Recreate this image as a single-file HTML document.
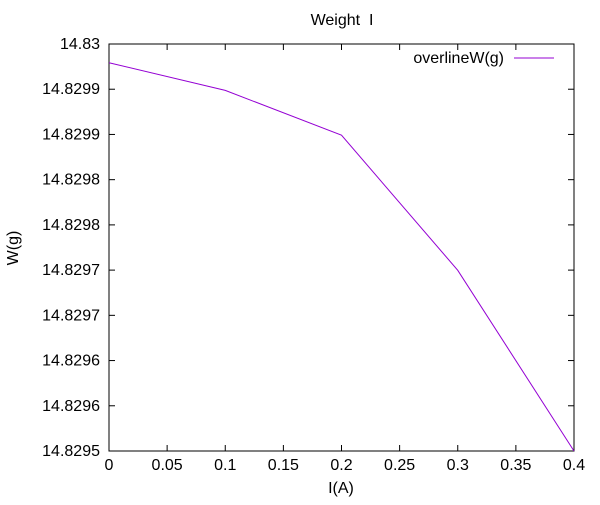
<!DOCTYPE html>
<html><head><meta charset="utf-8"><style>
body{margin:0;background:#fff;}
svg text{font-family:"Liberation Sans",sans-serif;font-size:16px;fill:#000;}
</style></head><body>
<svg id="chart" width="600" height="500">
<rect width="600" height="500" fill="#fff"/>
<text x="342" y="25" text-anchor="middle" style="white-space:pre">Weight  I</text>
<text x="341" y="493" text-anchor="middle">I(A)</text>
<text transform="translate(18,248) rotate(-90)" text-anchor="middle">W(g)</text>
<g id="axes"></g>
<g id="series"></g>
<g>
<text x="504" y="63" text-anchor="end">overlineW(g)</text>
<line x1="514" y1="58" x2="554" y2="58" stroke="#9400d3" stroke-width="1"/>
</g>
</svg>
<script>
const xValues=[0,0.1,0.2,0.3,0.4];
const yValues=[14.829977,14.829943,14.829888,14.829722,14.8295];
const xTicks=[0,0.05,0.1,0.15,0.2,0.25,0.3,0.35,0.4];
const xTickLabels=["0","0.05","0.1","0.15","0.2","0.25","0.3","0.35","0.4"];
const yTickLabels=["14.83","14.8299","14.8299","14.8298","14.8298","14.8297","14.8297","14.8296","14.8296","14.8295"];
const L=109,R=574,T=44,B=451,xMin=0,xMax=0.4,yMin=14.8295,yMax=14.83;
const sx=v=>L+(v-xMin)/(xMax-xMin)*(R-L);
const sy=v=>B-(v-yMin)/(yMax-yMin)*(B-T);
const NS="http://www.w3.org/2000/svg";
const axes=document.getElementById('axes');
function mk(tag,attrs,parent){const e=document.createElementNS(NS,tag);for(const k in attrs)e.setAttribute(k,attrs[k]);parent.appendChild(e);return e;}
const frame=mk('rect',{x:L,y:T,width:R-L,height:B-T,fill:'none',stroke:'#000','stroke-width':1},axes);


xTicks.forEach((v,i)=>{
  const x=sx(v);
  mk('line',{x1:x,y1:B,x2:x,y2:B-6,stroke:'#000'},axes);
  mk('line',{x1:x,y1:T,x2:x,y2:T+6,stroke:'#000'},axes);
  const t=mk('text',{x:x,y:B+19,'text-anchor':'middle'},axes);
  t.textContent=xTickLabels[i];
  
  
});
const n=yTickLabels.length;
for(let i=0;i<n;i++){
  const v=yMax-(yMax-yMin)*i/(n-1);
  const y=sy(v);
  mk('line',{x1:L,y1:y,x2:L+6,y2:y,stroke:'#000'},axes);
  mk('line',{x1:R,y1:y,x2:R-6,y2:y,stroke:'#000'},axes);
  const t=mk('text',{x:L-9,y:y+5,'text-anchor':'end'},axes);
  t.textContent=yTickLabels[i];
  
  
}
const pts=xValues.map((x,i)=>sx(x)+','+sy(yValues[i])).join(' ');
const line=mk('polyline',{points:pts,fill:'none',stroke:'#9400d3','stroke-width':1},document.getElementById('series'));


</script>
</body></html>
